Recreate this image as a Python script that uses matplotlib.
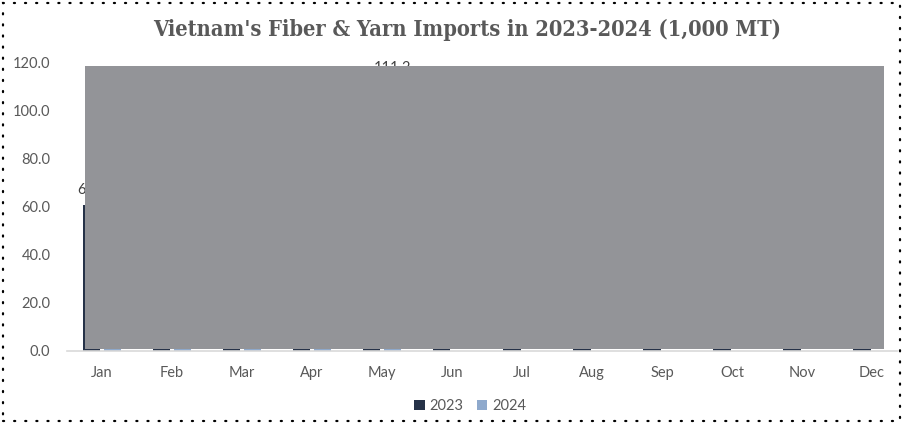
import matplotlib.pyplot as plt
import numpy as np
from matplotlib.patches import Rectangle

months = ["Jan", "Feb", "Mar", "Apr", "May", "Jun",
          "Jul", "Aug", "Sep", "Oct", "Nov", "Dec"]
imports_2023 = [60.6, 72.5, 88.4, 85.1, 92.3, 90.6, 95.2, 99.8, 93.1, 98.4, 94.7, 101.5]
imports_2024 = [75.3, 65.9, 102.3, 98.6, 111.2]

c2023 = "#263248"
c2024 = "#8EA9CC"
txt = "#595959"

W, H = 903, 424
fig = plt.figure(figsize=(W / 100, H / 100), dpi=100)
ax = fig.add_axes([67 / W, 73 / H, 830 / W, 289 / H])

x = np.arange(len(months))
bw = 0.243
off = (bw + 0.043) / 2
b1 = ax.bar(x - off, imports_2023, width=bw, color=c2023, label="2023")
x24 = np.arange(len(imports_2024))
b2 = ax.bar(x24 + off, imports_2024, width=bw, color=c2024, label="2024")
ax.bar_label(b1, fmt="%.1f", padding=6, fontsize=10.5, color="#404040", family="Lato")
ax.bar_label(b2, fmt="%.1f", padding=6, fontsize=10.5, color="#404040", family="Lato")

ax.set_xlim(-0.5, 11.357)
ax.set_ylim(0, 120)
ax.set_yticks(np.arange(0, 121, 20))
ax.set_yticklabels([f"{v:.1f}" for v in np.arange(0, 121, 20)])
ax.set_xticks(x)
ax.set_xticklabels(months)
ax.tick_params(axis="both", length=0, labelsize=10.5, labelcolor=txt)
ax.tick_params(axis="x", pad=11)
ax.tick_params(axis="y", pad=12)
for lab in ax.get_xticklabels() + ax.get_yticklabels():
    lab.set_family("Lato")
for s in ["top", "right", "left"]:
    ax.spines[s].set_visible(False)
ax.spines["bottom"].set_color("#D9D9D9")
ax.spines["bottom"].set_linewidth(1.2)

fig.text(467 / W, 1 - 30 / H, "Vietnam's Fiber & Yarn Imports in 2023-2024 (1,000 MT)",
         ha="center", va="center", fontsize=15.7, fontweight="bold",
         family="DejaVu Serif", fontstretch="condensed", color=txt)

fig.legend(handles=[b1, b2], labels=["2023", "2024"], loc="center",
           bbox_to_anchor=(470 / W, 1 - 406 / H), ncol=2, frameon=False,
           handlelength=0.75, handleheight=0.75, handletextpad=0.3,
           columnspacing=0.9, prop={"family": "Lato", "size": 10.5},
           labelcolor=txt)

# gray block covering the plot area
fig.add_artist(Rectangle((85 / W, 1 - 349 / H), 799 / W, 283 / H,
                         transform=fig.transFigure, facecolor="#939498",
                         edgecolor="none", zorder=10))
# dotted chart border
fig.add_artist(Rectangle((3 / W, 3 / H), 897 / W, 418 / H,
                         transform=fig.transFigure, fill=False,
                         edgecolor="black", linewidth=1.6,
                         linestyle=(0, (0.5, 4.5)), capstyle="round", zorder=11))

fig.savefig("out.png", dpi=100)
